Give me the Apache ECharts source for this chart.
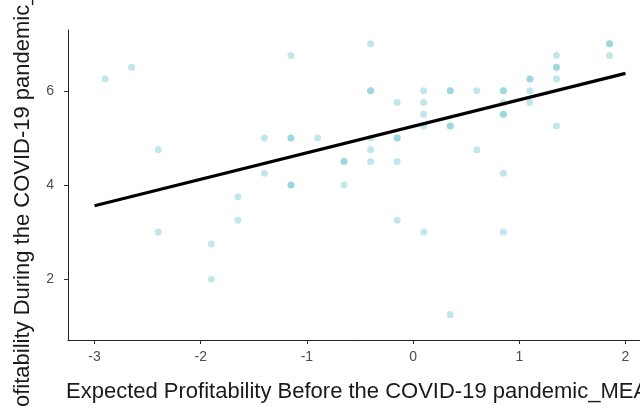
<!DOCTYPE html>
<html>
<head>
<meta charset="utf-8">
<script src="https://cdn.jsdelivr.net/npm/echarts@6/dist/echarts.min.js"></script>
<style>html,body{margin:0;padding:0;background:#fff;}#c{width:640px;height:407px;}</style>
</head>
<body>
<div id="c"></div>
<script>
// Scatter observations (x: expected profitability before, mean-centred; y: during)
var xValues = [-2.9, -2.65, -2.4, -2.4, -1.9, -1.9, -1.65, -1.65, -1.4, -1.4,
  -1.15, -1.15, -1.15, -1.15, -1.15, -0.9, -0.65, -0.65, -0.65, -0.4,
  -0.4, -0.4, -0.4, -0.4, -0.4, -0.15, -0.15, -0.15, -0.15, -0.15,
  0.1, 0.1, 0.1, 0.1, 0.1, 0.35, 0.35, 0.35, 0.35, 0.35,
  0.6, 0.6, 0.85, 0.85, 0.85, 0.85, 0.85, 0.85, 0.85, 1.1,
  1.1, 1.1, 1.1, 1.35, 1.35, 1.35, 1.35, 1.35, 1.85, 1.85, 1.85];
var yValues = [6.25, 6.5, 4.75, 3.0, 2.75, 2.0, 3.75, 3.25, 5.0, 4.25,
  6.75, 5.0, 5.0, 4.0, 4.0, 5.0, 4.5, 4.5, 4.0, 7.0,
  6.0, 6.0, 5.0, 4.75, 4.5, 5.75, 5.0, 5.0, 4.5, 3.25,
  6.0, 5.75, 5.5, 5.25, 3.0, 6.0, 6.0, 5.25, 5.25, 1.25,
  6.0, 4.75, 6.0, 6.0, 5.75, 5.5, 5.5, 4.25, 3.0, 6.25,
  6.25, 6.0, 5.75, 6.75, 6.5, 6.5, 6.25, 5.25, 7.0, 7.0, 6.75];
// Fitted regression line endpoints
var fitX = [-3, 2];
var fitY = [3.56, 6.37];
// Tick labels
var xTicks = [-3, -2, -1, 0, 1, 2];
var yTicks = [2, 4, 6];

var points = xValues.map(function (x, i) { return [x, yValues[i]]; });
var fitLine = fitX.map(function (x, i) { return [x, fitY[i]]; });

var chart = echarts.init(document.getElementById('c'), null, {renderer: 'canvas'});
var font = 'Liberation Sans, Arial, Helvetica, sans-serif';
chart.setOption({
  animation: false,
  backgroundColor: '#fff',
  grid: {left: 68, top: 30, right: -12, bottom: 67, containLabel: false, outerBoundsMode: 'none'},
  xAxis: {
    type: 'value', min: -3.25, max: 2.25,
    name: 'Expected Profitability Before the COVID-19 pandemic_MEAN',
    nameLocation: 'middle', nameGap: 41,
    nameTextStyle: {fontFamily: font, fontSize: 22, color: '#1a1a1a', padding: [0, 0, 0, 10]},
    axisLine: {show: true, onZero: false, lineStyle: {color: '#222', width: 1}},
    axisTick: {show: true, length: 4, customValues: xTicks, lineStyle: {color: '#333', width: 1}},
    axisLabel: {customValues: xTicks, color: '#4d4d4d', fontFamily: font, fontSize: 14, margin: 10},
    splitLine: {show: false}
  },
  yAxis: {
    type: 'value', min: 0.71, max: 7.29,
    name: 'Profitability During the COVID-19 pandemic_MEAN',
    nameLocation: 'middle', nameGap: 34,
    nameTextStyle: {fontFamily: font, fontSize: 22, color: '#1a1a1a', padding: [0, 0, 0, 12]},
    axisLine: {show: true, onZero: false, lineStyle: {color: '#222', width: 1}},
    axisTick: {show: true, length: 4, customValues: yTicks, lineStyle: {color: '#333', width: 1}},
    axisLabel: {customValues: yTicks, color: '#4d4d4d', fontFamily: font, fontSize: 14, margin: 14},
    splitLine: {show: false}
  },
  series: [
    {
      type: 'scatter', data: points, symbolSize: 7, z: 2,
      itemStyle: {color: 'rgba(102,194,204,0.5)'}
    },
    {
      type: 'line', data: fitLine, showSymbol: false, symbol: 'none', z: 3,
      lineStyle: {color: '#000', width: 3.2}
    }
  ]
});
</script>
</body>
</html>
